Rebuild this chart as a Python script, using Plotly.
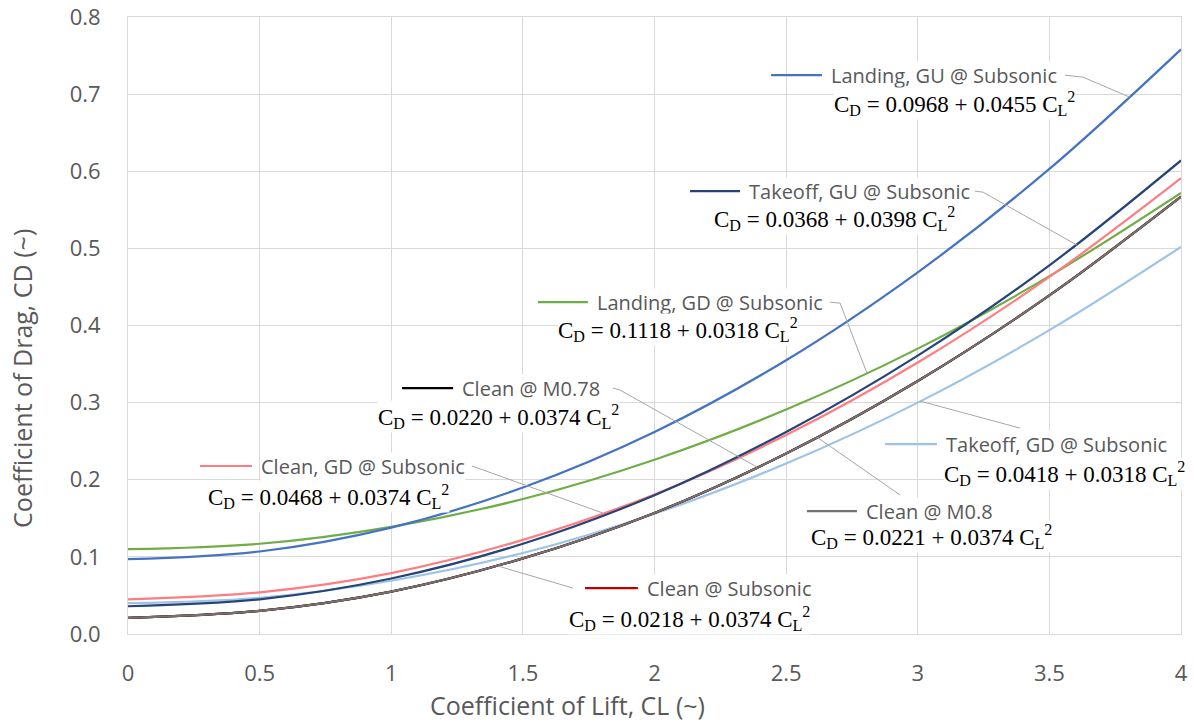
import plotly.graph_objects as go

# Lift coefficient stations (x axis)
cl = [0, 0.5, 1.0, 1.5, 2.0, 2.5, 3.0, 3.5, 4.0]

# Drag coefficient for each configuration at the stations above
cd_takeoff_gd = [0.040, 0.047, 0.069, 0.105, 0.156, 0.221, 0.300, 0.394, 0.502]
cd_landing_gd = [0.110, 0.117, 0.139, 0.175, 0.226, 0.291, 0.370, 0.464, 0.572]
cd_landing_gu = [0.097, 0.107, 0.138, 0.190, 0.262, 0.355, 0.469, 0.603, 0.758]
cd_clean_gd = [0.045, 0.054, 0.079, 0.122, 0.181, 0.258, 0.352, 0.463, 0.591]
cd_takeoff_gu = [0.036, 0.045, 0.072, 0.117, 0.180, 0.262, 0.361, 0.478, 0.614]
cd_clean_sub = [0.021, 0.030, 0.055, 0.098, 0.157, 0.234, 0.328, 0.439, 0.567]
cd_clean_m078 = [0.021, 0.030, 0.055, 0.098, 0.157, 0.234, 0.328, 0.439, 0.567]
cd_clean_m080 = [0.021, 0.030, 0.055, 0.098, 0.157, 0.234, 0.328, 0.439, 0.567]

names = ["Takeoff, GD @ Subsonic", "Landing, GD @ Subsonic", "Landing, GU @ Subsonic",
         "Clean, GD @ Subsonic", "Takeoff, GU @ Subsonic", "Clean @ Subsonic",
         "Clean @ M0.78", "Clean @ M0.8"]
series = [cd_takeoff_gd, cd_landing_gd, cd_landing_gu, cd_clean_gd,
          cd_takeoff_gu, cd_clean_sub, cd_clean_m078, cd_clean_m080]
equations = [
    ("0.0418", "0.0318"), ("0.1118", "0.0318"), ("0.0968", "0.0455"),
    ("0.0468", "0.0374"), ("0.0368", "0.0398"), ("0.0218", "0.0374"),
    ("0.0220", "0.0374"), ("0.0221", "0.0374"),
]
colors = ["#9DC3E6", "#70AD47", "#4472C4", "#FF7C80", "#264478",
          "#C00000", "#000000", "#767171"]

# Callout placement (data units): key line x0, x1, row y, equation x, equation y, leader path
callouts = [
    (2.876, 3.073, 0.2463, 3.096, 0.2080, [(3.388, 0.267), (3.009, 0.302)]),
    (1.557, 1.747, 0.4303, 1.630, 0.3946, [(2.667, 0.4303), (2.705, 0.4290), (2.807, 0.3383)]),
    (2.443, 2.636, 0.7246, 2.678, 0.6876, [(3.559, 0.7246), (3.628, 0.7220), (3.806, 0.6960)]),
    (0.2735, 0.471, 0.2178, 0.300, 0.1782, [(1.307, 0.2178), (1.804, 0.1568)]),
    (2.135, 2.325, 0.5742, 2.222, 0.5385, [(3.217, 0.5742), (3.248, 0.5729), (3.605, 0.5042)]),
    (1.736, 1.937, 0.0596, 1.671, 0.0205, [(1.690, 0.0596), (1.405, 0.0881)]),
    (1.041, 1.235, 0.3189, 0.946, 0.2819, [(1.842, 0.3189), (1.869, 0.3163), (2.389, 0.2165)]),
    (2.579, 2.769, 0.1594, 2.591, 0.1263, [(2.933, 0.1802), (2.617, 0.2553)]),
]

fig = go.Figure()
for name, cd, col in zip(names, series, colors):
    fig.add_trace(go.Scatter(x=cl, y=cd, mode="lines", name=name,
                             line=dict(color=col, width=2.2, shape="spline"),
                             showlegend=False))

shapes = []
annotations = []
label_font = dict(family="Open Sans", size=20, color="#595959")
eq_font = dict(family="Liberation Serif", size=23, color="#000000")

for name, (a, b), col, (kx0, kx1, ky, ex, ey, path) in zip(names, equations, colors, callouts):
    # leader line from the callout to its curve
    for (x0, y0), (x1, y1) in zip(path[:-1], path[1:]):
        shapes.append(dict(type="line", xref="x", yref="y", x0=x0, y0=y0, x1=x1, y1=y1,
                           line=dict(color="#A6A6A6", width=1), layer="above"))
    annotations.append(dict(xref="x", yref="y", x=kx1 + 0.03, y=ky, text=name,
                            showarrow=False, xanchor="left", yanchor="middle",
                            font=label_font, bgcolor="white", borderpad=0))
    annotations.append(dict(xref="x", yref="y", x=ex, y=ey,
                            text=f"C<sub>D</sub> = {a} + {b} C<sub>L</sub><sup>2</sup>",
                            showarrow=False, xanchor="left", yanchor="middle",
                            font=eq_font, bgcolor="white", borderpad=0))
    # legend key line drawn over the label background
    shapes.append(dict(type="line", xref="x", yref="y", x0=kx0, y0=ky, x1=kx1, y1=ky,
                       line=dict(color=col, width=2.2), layer="above"))

# Axis titles
title_font = dict(family="Open Sans", size=25, color="#595959")
annotations.append(dict(xref="paper", yref="paper", x=0.417, y=-0.115,
                        text="Coefficient of Lift, CL (~)", showarrow=False,
                        xanchor="center", yanchor="middle", font=title_font))
annotations.append(dict(xref="paper", yref="paper", x=-0.1007, y=0.415,
                        text="Coefficient of Drag, CD (~)", showarrow=False, textangle=-90,
                        xanchor="center", yanchor="middle", font=title_font))

tick_font = dict(family="Open Sans", size=22, color="#595959")
fig.update_layout(
    width=1194, height=727,
    margin=dict(l=128, r=13, t=17, b=93),
    paper_bgcolor="white", plot_bgcolor="white",
    shapes=shapes, annotations=annotations,
    xaxis=dict(range=[0, 4], dtick=0.5, tick0=0, showgrid=True, gridcolor="#D9D9D9",
               gridwidth=1, zeroline=False, showline=True, linecolor="#D9D9D9",
               mirror=True, ticks="", ticklabelstandoff=20, automargin=False,
               tickfont=tick_font),
    yaxis=dict(range=[0, 0.8], dtick=0.1, tick0=0, tickformat=".1f", showgrid=True,
               gridcolor="#D9D9D9", gridwidth=1, zeroline=False, showline=True,
               linecolor="#D9D9D9", mirror=True, ticks="", ticklabelstandoff=22,
               automargin=False, tickfont=tick_font),
)

fig.write_html("out.html")
